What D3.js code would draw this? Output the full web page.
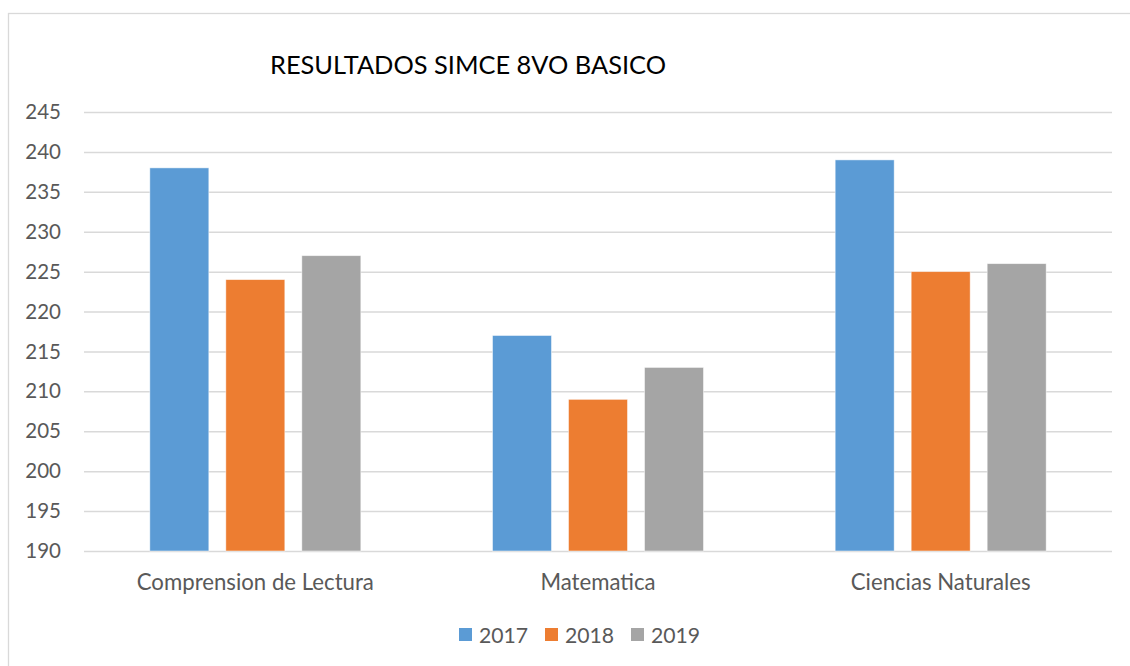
<!DOCTYPE html>
<html>
<head>
<meta charset="utf-8">
<script src="https://cdn.jsdelivr.net/npm/d3@7"></script>
<style>
  body { margin: 0; background: #fff; }
  text { font-family: Lato, "Open Sans", sans-serif; }
</style>
</head>
<body>
<div id="canva"></div>
<script>
const categories = ["Comprension de Lectura", "Matematica", "Ciencias Naturales"];
const series = ["2017", "2018", "2019"];
const values2017 = [238, 217, 239];
const values2018 = [224, 209, 225];
const values2019 = [227, 213, 226];
const yTicks = [190, 195, 200, 205, 210, 215, 220, 225, 230, 235, 240, 245];
const colors = ["#5B9BD5", "#ED7D31", "#A5A5A5"];

const width = 1130, height = 666;
const margin = { top: 112, right: 18, bottom: 115, left: 84 };
const iwidth = width - margin.left - margin.right;
const iheight = height - margin.top - margin.bottom;

const data = categories.map((c, i) => ({
  name: c,
  vals: [values2017[i], values2018[i], values2019[i]]
}));

const svg = d3.select("#canva").append("svg")
  .attr("width", width)
  .attr("height", height);

// chart border
svg.append("rect")
  .attr("x", 8.5).attr("y", 13.5)
  .attr("width", 1200).attr("height", 700)
  .attr("fill", "none")
  .attr("stroke", "#D9D9D9")
  .attr("stroke-width", 1.3);

svg.append("text")
  .attr("x", 468)
  .attr("y", 74)
  .attr("text-anchor", "middle")
  .style("font-size", "25.4px")
  .style("fill", "#000")
  .text("RESULTADOS SIMCE 8VO BASICO");

const g = svg.append("g")
  .attr("transform", `translate(${margin.left},${margin.top})`);

const y = d3.scaleLinear().domain([190, 245]).range([iheight, 0]);

const x0 = d3.scaleBand().domain(categories).range([0, iwidth]).padding(0);
const half = 105.5;
const x1 = d3.scaleBand().domain(series)
  .range([x0.bandwidth() / 2 - half, x0.bandwidth() / 2 + half])
  .paddingInner(17 / 76)
  .paddingOuter(0);

// gridlines via axis
const yAxis = g.append("g")
  .call(d3.axisLeft(y).tickValues(yTicks).tickSize(-iwidth).tickPadding(23));
yAxis.select(".domain").remove();
yAxis.selectAll(".tick line").attr("stroke", "#D9D9D9").attr("stroke-width", 1.5);
yAxis.selectAll(".tick text")
  .style("font-size", "20.5px")
  .style("fill", "#595959")
  .style("font-family", "Lato, sans-serif");

const groups = g.selectAll(".grp").data(data).enter().append("g")
  .attr("class", "grp")
  .attr("transform", (d) => `translate(${x0(d.name)},0)`);

groups.selectAll("rect")
  .data((d) => d.vals.map((v, i) => ({ key: series[i], value: v, i })))
  .enter().append("rect")
  .attr("x", (d) => x1(d.key))
  .attr("y", (d) => y(d.value))
  .attr("width", x1.bandwidth())
  .attr("height", (d) => iheight - y(d.value))
  .style("fill", (d) => colors[d.i])
  .attr("stroke", "#fff")
  .attr("stroke-opacity", 0.6)
  .attr("stroke-width", 0.8);

const xAxis = g.append("g")
  .attr("transform", `translate(0,${iheight})`)
  .call(d3.axisBottom(x0).tickSize(0).tickPadding(23));
xAxis.select(".domain").remove();
xAxis.selectAll(".tick text")
  .style("font-size", "22.2px")
  .style("fill", "#595959")
  .style("font-family", "Lato, sans-serif");

// legend
const legendX = [459, 545, 631];
const legend = svg.append("g").selectAll("g").data(series).enter().append("g")
  .attr("transform", (d, i) => `translate(${legendX[i]},628)`);
legend.append("rect")
  .attr("width", 13).attr("height", 13)
  .style("fill", (d, i) => colors[i]);
legend.append("text")
  .attr("x", 20).attr("y", 14.5)
  .style("font-size", "21.2px")
  .style("fill", "#595959")
  .text((d) => d);
</script>
</body>
</html>
